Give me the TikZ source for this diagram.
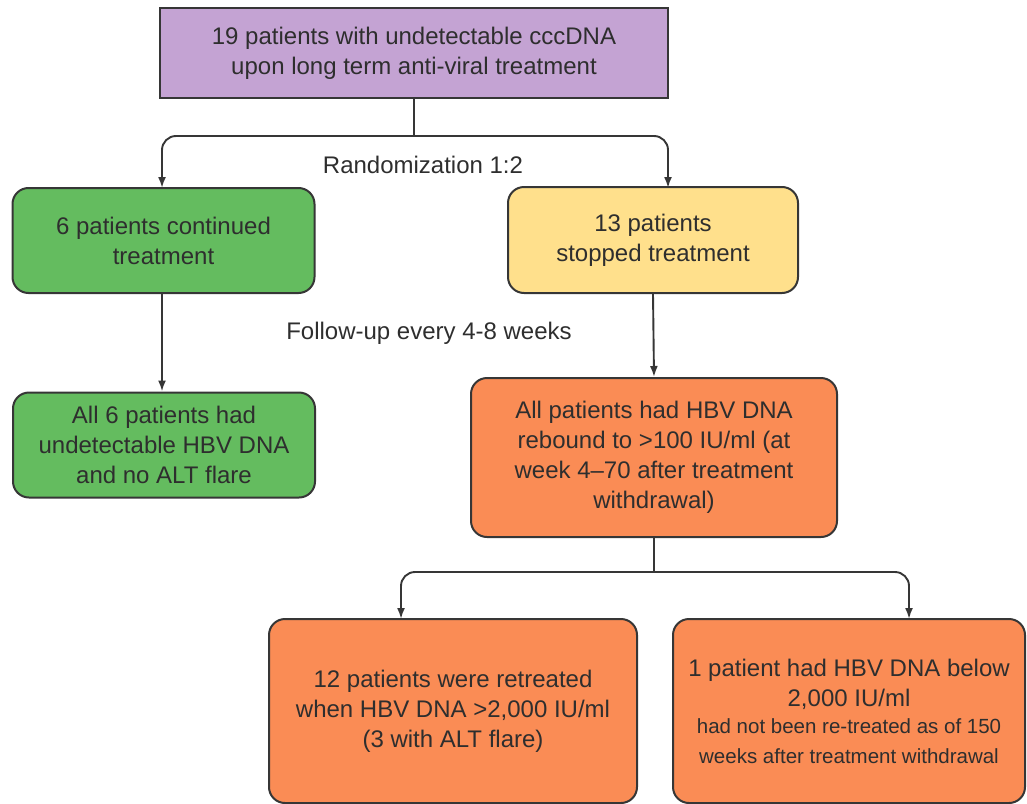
\documentclass[tikz,border=0pt]{standalone}
\usepackage{fontspec}
\setmainfont{Liberation Sans}
\usetikzlibrary{arrows.meta}
\definecolor{cpurple}{HTML}{C4A3D3}
\definecolor{cgreen}{HTML}{64BC5F}
\definecolor{cyellow}{HTML}{FFE08C}
\definecolor{corange}{HTML}{FA8C55}
\definecolor{cline}{HTML}{363636}
\definecolor{ctext}{HTML}{2E2E2E}
\newcommand{\smallline}{\fontsize{20.5}{25}\selectfont}
\tikzset{
  box/.style={draw=cline, line width=2pt, align=center, text=ctext, inner sep=0pt,
    font=\fontsize{24}{30}\selectfont},
  rbox/.style={box, rounded corners=16pt},
  conn/.style={draw=cline, line width=1.9pt},
  arr/.style={conn, -{Latex[length=11pt,width=8pt]}},
  lbl/.style={text=ctext, font=\fontsize{24}{30}\selectfont, inner sep=0pt},
}
\begin{document}
\begin{tikzpicture}[x=1pt,y=-1pt]
\useasboundingbox (0,0) rectangle (1027,803);
\node[box, fill=cpurple, minimum width=508pt, minimum height=90pt] (top) at (414,53)
  {19 patients with undetectable cccDNA\\upon long term anti-viral treatment};
\node[rbox, fill=cgreen, minimum width=302pt, minimum height=105pt] (g1) at (163.5,240.5)
  {6 patients continued\\treatment};
\node[rbox, fill=cyellow, minimum width=290pt, minimum height=106pt] (y1) at (653,240)
  {13 patients\\stopped treatment};
\node[rbox, fill=cgreen, minimum width=302pt, minimum height=105pt] (g2) at (164,445)
  {All 6 patients had\\undetectable HBV DNA\\and no ALT flare};
\node[rbox, fill=corange, minimum width=366pt, minimum height=159pt] (m1) at (654,457.5)
  {All patients had HBV DNA\\rebound to >100 IU/ml (at\\week 4--70 after treatment\\withdrawal)};
\node[rbox, fill=corange, minimum width=368pt, minimum height=184pt] (b1) at (453,711)
  {12 patients were retreated\\when HBV DNA >2,000 IU/ml\\(3 with ALT flare)};
\node[rbox, fill=corange, minimum width=352pt, minimum height=184pt] (b2) at (849,711)
  {1 patient had HBV DNA below\\2,000 IU/ml\\[-3pt]\smallline had not been re-treated as of 150\\\smallline weeks after treatment withdrawal};
\node[lbl] (rand) at (423,165) {Randomization 1:2};
\node[lbl] (fu) at (429,333) {Follow-up every 4-8 weeks};
\coordinate (j1) at (414,136);
\coordinate (t1) at (162,188);
\coordinate (t2) at (668,188);
\coordinate (j2) at (654,572);
\coordinate (t3) at (401,619);
\coordinate (t4) at (909,619);
\draw[conn] (top.south) -- (j1);
\draw[arr, rounded corners=14pt] (j1) -| (t1);
\draw[arr, rounded corners=14pt] (j1) -| (t2);
\draw[arr] (g1.south -| t1) -- (g2.north -| t1);
\draw[arr] (y1.south) -- (m1.north);
\draw[conn] (m1.south) -- (j2);
\draw[arr, rounded corners=14pt] (j2) -| (t3);
\draw[arr, rounded corners=14pt] (j2) -| (t4);
\end{tikzpicture}
\end{document}
